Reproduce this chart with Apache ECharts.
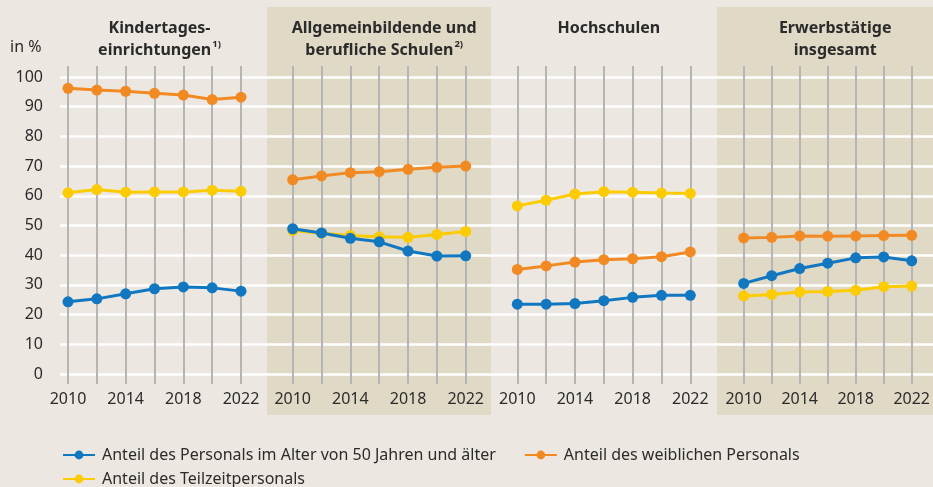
<!DOCTYPE html>
<html><head><meta charset="utf-8">
<script src="https://cdn.jsdelivr.net/npm/echarts@6/dist/echarts.min.js"></script>
<style>html,body{margin:0;padding:0;background:#ece8e1;}#c{width:933px;height:487px;}</style>
</head><body><div id="c"></div>
<script>
const years = ['2010','2012','2014','2016','2018','2020','2022'];
const yTicks = [0,10,20,30,40,50,60,70,80,90,100];
const seriesNames = ['Anteil des Personals im Alter von 50 Jahren und älter','Anteil des weiblichen Personals','Anteil des Teilzeitpersonals'];
const panelTitles = ['Kindertages-\neinrichtungen{sup|1)}','Allgemeinbildende und\nberufliche Schulen{sup|2)}','Hochschulen','Erwerbstätige\ninsgesamt'];
// Kindertageseinrichtungen
const kitaOld    = [24.3, 25.3, 27.0, 28.7, 29.3, 29.0, 27.9];
const kitaFemale = [96.2, 95.6, 95.2, 94.5, 93.9, 92.4, 93.2];
const kitaPart   = [61.0, 62.1, 61.2, 61.3, 61.3, 61.9, 61.5];
// Allgemeinbildende und berufliche Schulen
const schoolOld    = [48.9, 47.5, 45.7, 44.5, 41.4, 39.7, 39.8];
const schoolFemale = [65.4, 66.7, 67.8, 68.1, 68.9, 69.6, 70.0];
const schoolPart   = [48.3, 47.4, 46.6, 46.2, 46.0, 47.0, 48.0];
// Hochschulen
const uniOld    = [23.5, 23.5, 23.7, 24.7, 25.8, 26.5, 26.5];
const uniFemale = [35.2, 36.4, 37.7, 38.5, 38.8, 39.5, 41.1];
const uniPart   = [56.6, 58.5, 60.6, 61.4, 61.2, 60.9, 60.8];
// Erwerbstätige insgesamt
const allOld    = [30.5, 33.1, 35.5, 37.3, 39.1, 39.4, 38.1];
const allFemale = [45.8, 46.0, 46.5, 46.4, 46.5, 46.6, 46.7];
const allPart   = [26.3, 26.8, 27.6, 27.8, 28.2, 29.4, 29.6];

const panels = [[kitaOld,kitaFemale,kitaPart],[schoolOld,schoolFemale,schoolPart],[uniOld,uniFemale,uniPart],[allOld,allFemale,allPart]];
const colors = ['#1177c0','#f28a24','#fccb00'];
const zs = [5,4,3];
const panelLeft = [68, 292.7, 517.3, 743.7];
const panelW = 173;
const FONT = 'Noto Sans';

const grids = [{left:60, right:0, top:77, bottom:113}];
const xAxes = [{gridIndex:0, type:'value', min:0, max:1, show:false}];
const yAxes = [{gridIndex:0, type:'value', min:yTicks[0], max:yTicks[yTicks.length-1], interval:10,
  axisLine:{show:false}, axisTick:{show:false},
  axisLabel:{color:'#2b2b2b', fontSize:16, fontFamily:FONT, margin:17},
  splitLine:{show:true, lineStyle:{color:'#ffffff', width:2.5}}}];
const series = [];
const titles = [];
panels.forEach((p,i)=>{
  const gi = i+1;
  grids.push({left:panelLeft[i], width:panelW, top:66, bottom:103});
  xAxes.push({gridIndex:gi, type:'category', data:years, boundaryGap:false,
    axisLine:{show:false}, axisTick:{show:false},
    axisLabel:{interval:1, color:'#2b2b2b', fontSize:16, fontFamily:FONT, margin:7},
    splitLine:{show:true, interval:0, lineStyle:{color:'#b5b5b5', width:2}}});
  yAxes.push({gridIndex:gi, type:'value', min:-3.367, max:103.70, show:false, splitLine:{show:false}});
  p.forEach((d,k)=>{
    series.push({type:'line', name:seriesNames[k], xAxisIndex:gi, yAxisIndex:gi, data:d,
      symbol:'circle', symbolSize:11, showAllSymbol:true, z:zs[k],
      lineStyle:{color:colors[k], width:3}, itemStyle:{color:colors[k]}, emphasis:{disabled:true}});
  });
  titles.push({text:panelTitles[i], left:panelLeft[i]+panelW/2, top:12, textAlign:'center',
    textStyle:{fontFamily:FONT, fontWeight:'bold', fontSize:16, color:'#2b2b2b', lineHeight:22,
      rich:{sup:{fontFamily:FONT, fontWeight:'bold', fontSize:9.5, color:'#2b2b2b', verticalAlign:'top', lineHeight:14, padding:[0,0,0,1]}}}});
});

const chart = echarts.init(document.getElementById('c'));
chart.setOption({
  backgroundColor:'#ece8e1',
  animation:false,
  title:titles,
  graphic:[
    {type:'rect', z:-10, shape:{x:267, y:7, width:224, height:408}, style:{fill:'#e0d9c6'}},
    {type:'rect', z:-10, shape:{x:717, y:7, width:216, height:408}, style:{fill:'#e0d9c6'}},
    {type:'text', left:10, top:39, style:{text:'in %', fontSize:16, fontFamily:FONT, fill:'#2b2b2b'}}
  ],
  legend:[
    {data:[seriesNames[0], seriesNames[1]], left:57, top:442, itemWidth:32, itemHeight:11, itemGap:28,
     textStyle:{fontSize:16, fontFamily:FONT, color:'#2b2b2b', padding:[0,0,0,2]}, selectedMode:false},
    {data:[seriesNames[2]], left:57, top:466, itemWidth:32, itemHeight:11,
     textStyle:{fontSize:16, fontFamily:FONT, color:'#2b2b2b', padding:[0,0,0,2]}, selectedMode:false}
  ],
  grid:grids, xAxis:xAxes, yAxis:yAxes, series:series
});
</script></body></html>
